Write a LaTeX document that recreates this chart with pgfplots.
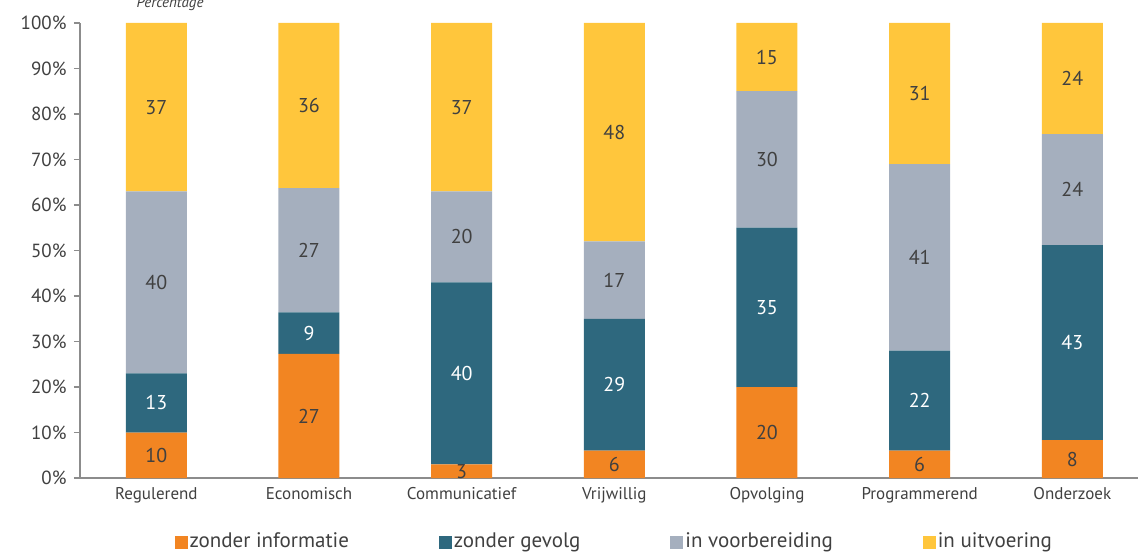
\documentclass[border=0pt]{standalone}
\usepackage{pgfplots}
\pgfplotsset{compat=1.18}
\usepackage{fontspec}
\setmainfont{PT Sans}
\definecolor{czinfo}{HTML}{F28522}
\definecolor{zgevolg}{HTML}{2E687E}
\definecolor{ivoorb}{HTML}{A5AFBE}
\definecolor{iuitv}{HTML}{FFC63C}
\definecolor{textgray}{HTML}{404040}
\definecolor{axisgray}{HTML}{8C8C8C}
\begin{document}
\begin{tikzpicture}
\path[use as bounding box] (-80pt,-74pt) rectangle (1058pt,478pt);
\begin{axis}[
    at={(0pt,0pt)}, anchor=south west,
    scale only axis, width=1058pt, height=455pt,
    ybar stacked, bar width=61pt,
    xmin=-0.5, xmax=6.43, ymin=0, ymax=100,
    axis x line*=bottom, axis y line*=left,
    axis line style={draw=axisgray, line width=1.5pt},
    tick align=outside, major tick length=6pt,
    tick style={draw=axisgray, line width=1.5pt},
    ytick={0,10,...,100},
    yticklabel={\pgfmathprintnumber{\tick}\%},
    yticklabel style={font=\fontsize{19}{21}\selectfont, text=textgray, xshift=-4pt},
    xtick={0,...,6},
    xticklabels={Regulerend,Economisch,Communicatief,Vrijwillig,Opvolging,Programmerend,Onderzoek},
    xticklabel style={font=\fontsize{17}{19}\selectfont, text=textgray},
    xtick style={draw=none},
    extra x ticks={-0.5,0.5,...,5.5},
    extra x tick labels={},
    extra x tick style={tick style={draw=axisgray, line width=1.5pt}},
    /pgf/number format/assume math mode=true,
    point meta=rawy,
    nodes near coords={\pgfmathprintnumber[fixed,precision=0]{\pgfplotspointmeta}},
    every node near coord/.append style={anchor=center, font=\fontsize{20}{22}\selectfont, text=textgray},
    sq/.style={legend image code/.code={\fill[##1, draw=none] (0pt,-8pt) rectangle (13pt,5pt);}},
    legend style={at={(rel axis cs:0.505,-0.138)}, anchor=center, draw=none, fill=none,
        legend columns=4, font=\fontsize{21}{24}\selectfont, text=textgray,
        nodes={inner sep=2pt},
        /tikz/every even column/.append style={column sep=88pt}},
]
\addplot[fill=czinfo, draw=none, sq] coordinates {(0,10) (1,27.3) (2,3) (3,6) (4,20) (5,6) (6,8.3)};
\addplot[fill=zgevolg, draw=none, sq, every node near coord/.append style={text=white}] coordinates {(0,13) (1,9.1) (2,40) (3,29) (4,35) (5,22) (6,42.9)};
\addplot[fill=ivoorb, draw=none, sq] coordinates {(0,40) (1,27.3) (2,20) (3,17) (4,30) (5,41) (6,24.4)};
\addplot[fill=iuitv, draw=none, sq] coordinates {(0,37) (1,36.3) (2,37) (3,48) (4,15) (5,31) (6,24.4)};
\legend{zonder informatie, zonder gevolg, in voorbereiding, in uitvoering}
\end{axis}
\node[font=\itshape\fontsize{15}{17}\selectfont, text=textgray] at (90pt,474pt) {Percentage};
\end{tikzpicture}
\end{document}
